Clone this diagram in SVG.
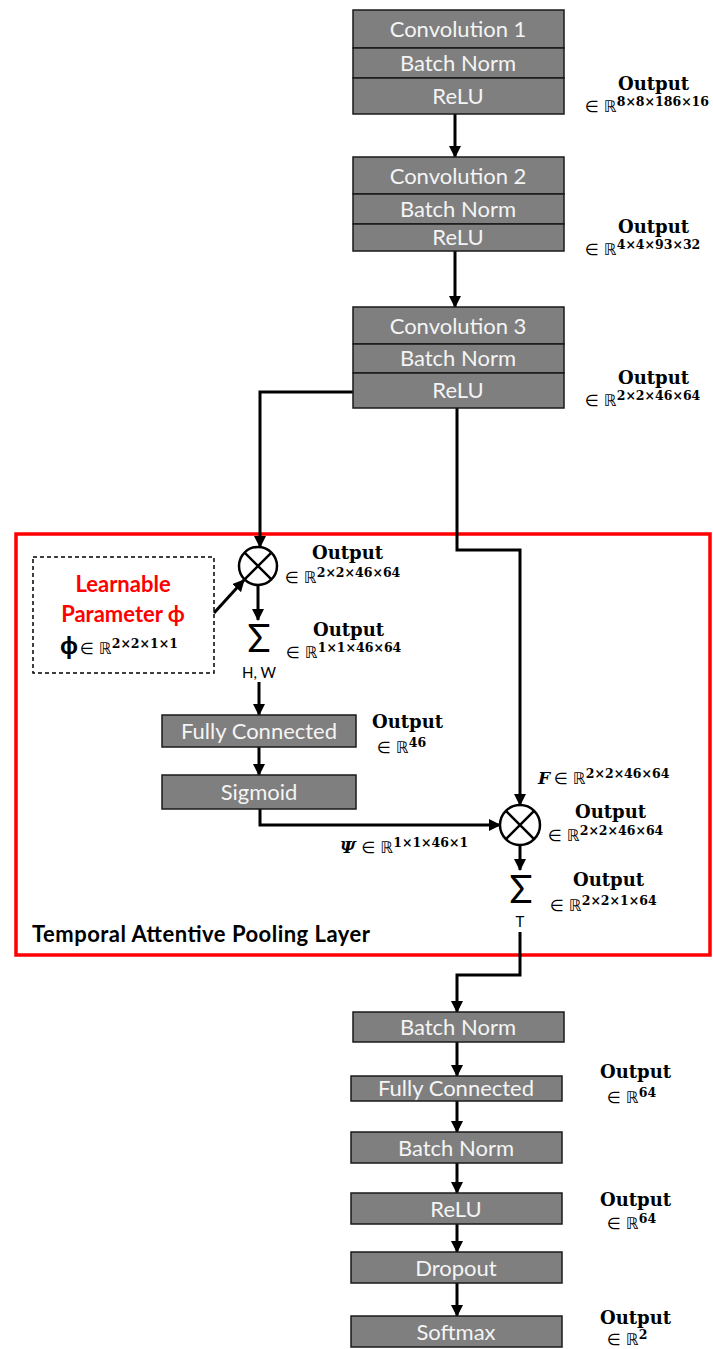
<svg xmlns="http://www.w3.org/2000/svg" width="713" height="1349" viewBox="0 0 713 1349">
<defs>
<marker id="ah" markerWidth="12" markerHeight="12" refX="11" refY="6" orient="auto" markerUnits="userSpaceOnUse" viewBox="0 0 12 12">
<path d="M0,0 L12,6 L0,12 z" fill="#000"/>
</marker>
<style>
.box{fill:#7f7f7f;stroke:#1a1a1a;stroke-width:1.5}
.bt{font-family:Lato,"Open Sans",sans-serif;font-size:22px;fill:#f4f4f4;text-anchor:middle}
.c{fill:none;stroke:#000;stroke-width:3}
.ca{fill:none;stroke:#000;stroke-width:3;marker-end:url(#ah)}
.out{font-family:"DejaVu Serif",serif;font-weight:bold;font-size:18px;fill:#000}
.el{font-family:"DejaVu Sans",sans-serif;font-size:16px;fill:#000;font-weight:normal;font-style:normal}
.sup{font-family:"DejaVu Serif",serif;font-weight:bold;font-size:12.5px;font-style:normal}
.ot{fill:#fff;stroke:#000;stroke-width:2.5}
.sig{font-family:Lato,"Open Sans",sans-serif;font-size:38px;fill:#000;text-anchor:middle}
.sub{font-family:Lato,"Open Sans",sans-serif;font-size:15px;fill:#000;text-anchor:middle}
.red{font-family:Lato,"Open Sans",sans-serif;font-weight:bold;font-size:22px;fill:#ff0000;text-anchor:middle}
</style>
</defs>
<rect x="16" y="534" width="694" height="421" fill="none" stroke="#ff0000" stroke-width="3.5"/>
<text x="32" y="942" font-family="Lato,'Open Sans',sans-serif" font-weight="bold" font-size="22" fill="#000" textLength="338" lengthAdjust="spacing">Temporal Attentive Pooling Layer</text>

<g id="connectors">
<path class="ca" d="M455,114 V157"/>
<path class="ca" d="M455,251 V307"/>
<path class="ca" d="M353,392 H260 V547"/>
<path class="ca" d="M457,408 V550 H520 V805"/>
<path class="ca" d="M214,613 L244,580"/>
<path class="ca" d="M258,585 V620"/>
<path class="ca" d="M259,682 V715"/>
<path class="ca" d="M259,747 V775"/>
<path class="ca" d="M260,809 V825 H500"/>
<path class="ca" d="M520,845 V870"/>
<path class="ca" d="M520,932 V975 H457 V1012"/>
<path class="ca" d="M457,1042 V1076"/>
<path class="ca" d="M457,1101 V1132"/>
<path class="ca" d="M457,1163 V1193"/>
<path class="ca" d="M457,1224 V1252"/>
<path class="ca" d="M457,1283 V1316"/>
</g>

<g id="conv1">
<rect class="box" x="353" y="10" width="211" height="38"/>
<rect class="box" x="353" y="48" width="211" height="30"/>
<rect class="box" x="353" y="78" width="211" height="36"/>
<text class="bt" x="458" y="37">Convolution 1</text>
<text class="bt" x="458" y="71">Batch Norm</text>
<text class="bt" x="458" y="104">ReLU</text>
<text class="out" x="618" y="90">Output</text>
<text class="el" x="585" y="112">∈ ℝ<tspan class="sup" dy="-6">8×8×186×16</tspan></text>
</g>

<g id="conv2">
<rect class="box" x="353" y="157" width="211" height="37"/>
<rect class="box" x="353" y="194" width="211" height="30"/>
<rect class="box" x="353" y="224" width="211" height="27"/>
<text class="bt" x="458" y="184">Convolution 2</text>
<text class="bt" x="458" y="217">Batch Norm</text>
<text class="bt" x="458" y="245">ReLU</text>
<text class="out" x="618" y="233">Output</text>
<text class="el" x="585" y="255">∈ ℝ<tspan class="sup" dy="-6">4×4×93×32</tspan></text>
</g>

<g id="conv3">
<rect class="box" x="353" y="307" width="211" height="37"/>
<rect class="box" x="353" y="344" width="211" height="29"/>
<rect class="box" x="353" y="373" width="211" height="35"/>
<text class="bt" x="458" y="334">Convolution 3</text>
<text class="bt" x="458" y="366">Batch Norm</text>
<text class="bt" x="458" y="398">ReLU</text>
<text class="out" x="618" y="384">Output</text>
<text class="el" x="585" y="406">∈ ℝ<tspan class="sup" dy="-6">2×2×46×64</tspan></text>
</g>

<g id="param">
<rect x="33" y="557" width="181" height="116" fill="none" stroke="#000" stroke-width="1.5" stroke-dasharray="4,3"/>
<text class="red" x="123" y="592">Learnable</text>
<text class="red" x="123" y="622">Parameter ϕ</text>
<text x="60" y="654" font-family="'Open Sans',sans-serif" font-weight="bold" font-size="24" fill="#000">ϕ<tspan class="el" dx="2">∈ ℝ</tspan><tspan class="sup" dy="-6">2×2×1×1</tspan></text>
</g>

<g id="mult1">
<circle class="ot" cx="258" cy="566" r="19"/>
<path d="M244.6,552.6 L271.4,579.4 M271.4,552.6 L244.6,579.4" stroke="#000" stroke-width="2.5"/>
<text class="out" x="312" y="559">Output</text>
<text class="el" x="285" y="583">∈ ℝ<tspan class="sup" dy="-6">2×2×46×64</tspan></text>
</g>

<g id="sum1">
<text class="sig" x="259" y="652">Σ</text>
<text class="sub" x="259" y="678">H, W</text>
<text class="out" x="313" y="636">Output</text>
<text class="el" x="286" y="658">∈ ℝ<tspan class="sup" dy="-6">1×1×46×64</tspan></text>
</g>

<g id="fc1">
<rect class="box" x="162" y="715" width="194" height="32"/>
<text class="bt" x="259" y="739">Fully Connected</text>
<text class="out" x="372" y="728">Output</text>
<text class="el" x="377" y="753">∈ ℝ<tspan class="sup" dy="-6">46</tspan></text>
</g>

<g id="sigmoid">
<rect class="box" x="162" y="775" width="194" height="34"/>
<text class="bt" x="259" y="800">Sigmoid</text>
<text x="340" y="853" font-family="'DejaVu Serif',serif" font-weight="bold" font-style="italic" font-size="17" fill="#000">Ψ<tspan class="el" dx="6">∈ ℝ</tspan><tspan class="sup" dy="-6">1×1×46×1</tspan></text>
</g>

<g id="mult2">
<circle class="ot" cx="520" cy="825" r="20"/>
<path d="M505.9,810.9 L534.1,839.1 M534.1,810.9 L505.9,839.1" stroke="#000" stroke-width="2.5"/>
<text x="538" y="784" font-family="'DejaVu Serif',serif" font-weight="bold" font-style="italic" font-size="17" fill="#000">F<tspan class="el" dx="4">∈ ℝ</tspan><tspan class="sup" dy="-6">2×2×46×64</tspan></text>
<text class="out" x="575" y="818">Output</text>
<text class="el" x="548" y="841">∈ ℝ<tspan class="sup" dy="-6">2×2×46×64</tspan></text>
</g>

<g id="sum2">
<text class="sig" x="521" y="903">Σ</text>
<text class="sub" x="520" y="927">T</text>
<text class="out" x="573" y="886">Output</text>
<text class="el" x="550" y="911">∈  ℝ<tspan class="sup" dy="-6">2×2×1×64</tspan></text>
</g>

<g id="bn_a">
<rect class="box" x="353" y="1012" width="211" height="30"/>
<text class="bt" x="458" y="1035">Batch Norm</text>
</g>
<g id="fc2">
<rect class="box" x="351" y="1076" width="211" height="25"/>
<text class="bt" x="456" y="1096">Fully Connected</text>
<text class="out" x="600" y="1078">Output</text>
<text class="el" x="607" y="1103">∈ ℝ<tspan class="sup" dy="-6">64</tspan></text>
</g>
<g id="bn_b">
<rect class="box" x="351" y="1132" width="211" height="31"/>
<text class="bt" x="456" y="1156">Batch Norm</text>
</g>
<g id="relu">
<rect class="box" x="351" y="1193" width="211" height="31"/>
<text class="bt" x="456" y="1217">ReLU</text>
<text class="out" x="600" y="1206">Output</text>
<text class="el" x="607" y="1229">∈ ℝ<tspan class="sup" dy="-6">64</tspan></text>
</g>
<g id="dropout">
<rect class="box" x="351" y="1252" width="211" height="31"/>
<text class="bt" x="456" y="1276">Dropout</text>
</g>
<g id="softmax">
<rect class="box" x="351" y="1316" width="211" height="31"/>
<text class="bt" x="456" y="1340">Softmax</text>
<text class="out" x="600" y="1324">Output</text>
<text class="el" x="607" y="1345">∈ ℝ<tspan class="sup" dy="-6">2</tspan></text>
</g>
</svg>
